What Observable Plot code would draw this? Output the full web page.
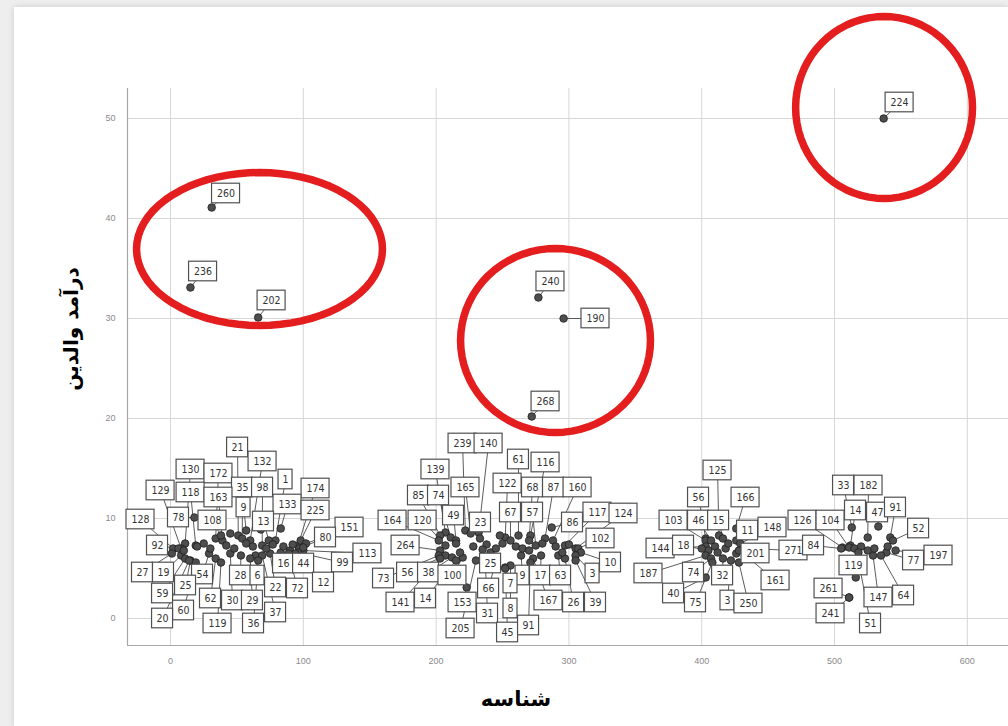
<!DOCTYPE html>
<html><head><meta charset="utf-8">
<script src="https://cdn.jsdelivr.net/npm/d3@7"></script>
<script src="https://cdn.jsdelivr.net/npm/@observablehq/plot@0.6"></script>
<style>
html,body{margin:0;padding:0;background:#eeeeee;width:1008px;height:726px;overflow:hidden;}
#panel{position:absolute;left:14px;top:7px;right:0;bottom:0;background:#fff;box-shadow:0 0 6px rgba(0,0,0,0.15);}
#chart{position:absolute;left:0;top:0;}
</style></head><body><div id="panel"></div><div id="chart"></div>
<script>
// labelled cases: case number, ID (x), parental income (y), label anchor (data units)
const caseLabels = [
  21,132,130,172,1,174,129,118,35,98,163,9,133,225,78,128,108,13,151,80,92,113,99,27,19,54,28,6,16,44,12,25,22,72,59,62,30,29,37,60,20,119,36,
  239,140,61,116,139,165,122,68,87,160,85,74,49,23,67,57,117,124,164,120,86,102,264,10,73,56,38,100,25,9,17,63,3,66,7,141,14,153,167,26,39,31,8,205,45,91,
  125,56,166,103,46,15,11,148,144,18,201,271,187,74,32,161,40,75,3,250,
  33,182,14,47,91,126,104,52,84,197,77,119,261,147,64,241,51,
  260,236,202,240,190,268,224];
const idValues = [
  51,60,11,34,79,96,8,19,54,69,39,57,83,98,18,2,38,74,102,97,6,100,96,1,8,29,53,64,83,90,94,15,75,89,11,34,45,60,69,19,14,38,66,
  222,232,262,271,207,226,252,270,282,288,203,211,215,233,256,275,297,305,202,207,287,307,203,309,202,207,212,220,241,264,279,292,305,245,252,203,215,223,273,297,305,237,256,230,252,271,
  413,403,426,403,407,416,426,429,403,405,426,435,403,407,416,433,403,408,422,428,
  513,525,512,533,542,506,511,544,505,546,539,516,511,529,535,511,518,
  31,15,66,277,296,272,537];
const incomeValues = [
  8.3,7.8,7.5,8.0,7.8,7.3,7.0,7.3,8.0,7.3,7.8,8.8,9.0,7.8,10.1,7.0,8.3,7.8,7.5,7.0,7.0,6.8,6.6,6.5,6.3,6.5,6.3,6.3,6.6,6.8,6.5,5.8,6.5,6.5,6.0,6.0,6.5,6.0,6.3,5.6,5.8,5.6,5.8,
  8.8,8.6,8.3,8.3,8.6,8.5,8.1,7.8,8.0,7.8,8.3,8.1,7.8,8.0,7.8,7.3,7.3,7.0,7.8,7.3,9.1,7.0,6.8,6.6,6.3,6.3,6.1,6.1,6.6,6.3,6.3,6.3,6.3,5.8,5.1,6.0,5.8,3.1,6.0,6.0,5.8,5.8,5.3,5.8,5.0,5.6,
  8.3,8.0,9.0,7.8,7.8,8.0,7.8,7.5,7.2,6.8,6.5,7.0,6.3,6.0,6.0,6.3,4.1,5.6,5.8,5.6,
  9.1,8.1,7.3,9.2,8.1,7.1,7.1,7.8,7.0,6.8,6.6,4.1,2.1,6.3,6.3,2.1,5.8,
  41.1,33.1,30.1,32.1,30.0,20.2,50.0];
const labelX = [
  50.5,69.3,15.1,36.1,86.6,109.2,-7.5,15.1,54.2,69.3,36.1,55.0,88.1,109.2,6.0,-22.6,31.6,70.0,134.8,116.7,-9.8,148.3,129.5,-21.1,-5.3,24.1,52.7,65.5,85.1,100.2,115.2,11.3,79.1,95.6,-6.0,30.1,46.7,61.7,79.1,9.8,-6.0,35.4,62.5,
  219.9,239.5,262.0,282.4,199.5,222.1,253.8,272.6,288.4,306.5,186.7,201.8,213.1,233.4,256.0,272.6,321.5,341.1,167.2,189.8,302.7,323.8,177.0,331.3,160.4,178.5,194.3,212.3,241.0,265.1,278.6,293.7,317.8,239.5,256.0,173.2,192.0,219.9,284.6,303.5,320.0,238.7,256.0,218.4,253.8,269.6,
  411.9,397.6,433.0,378.8,397.6,412.7,434.5,453.3,369.0,386.3,440.5,469.1,359.9,393.8,415.7,455.6,378.8,395.3,419.4,435.2,
  506.8,525.6,515.8,532.4,545.9,475.9,497.0,563.3,484.2,578.3,559.5,514.3,495.5,533.1,552.0,497.0,527.1,
  41.8,24.5,76.1,286.1,320.0,282.4,549.0];
const labelY = [
  17.1,15.7,14.9,14.5,13.9,13.0,12.8,12.6,13.1,13.1,12.1,11.1,11.4,10.8,10.1,9.9,9.8,9.7,9.1,8.1,7.3,6.5,5.6,4.6,4.6,4.4,4.3,4.3,5.5,5.5,3.6,3.3,3.1,3.0,2.5,2.0,1.8,1.8,0.6,0.8,0.0,-0.5,-0.5,
  17.5,17.5,15.9,15.6,14.9,13.1,13.5,13.1,13.1,13.1,12.3,12.3,10.3,9.6,10.6,10.6,10.6,10.5,9.8,9.8,9.6,8.0,7.3,5.6,4.0,4.6,4.6,4.3,5.5,4.3,4.3,4.3,4.5,3.0,3.5,1.6,2.0,1.6,1.8,1.6,1.6,0.5,1.0,-1.0,-1.4,-0.7,
  14.8,12.1,12.1,9.8,9.8,9.8,8.8,9.1,7.0,7.3,6.5,6.8,4.5,4.6,4.3,3.8,2.5,1.6,1.8,1.5,
  13.3,13.3,10.8,10.6,11.1,9.8,9.8,9.0,7.3,6.3,5.8,5.3,3.0,2.1,2.3,0.5,-0.5,
  42.5,34.7,31.8,33.7,30.0,21.7,51.6];

// cases whose labels are hidden by overlap
const hiddenIds = [20,25,30,42,48,57,62,72,77,85,92,100,10,45,68,215,228,238,245,250,260,265,280,290,300,218,235,270,295,248,410,418,420,412,428,400,515,520,525,530,540,518];
const hiddenIncomes = [7.2,7.5,7.0,7.3,7.0,7.5,7.2,7.0,7.4,7.2,7.4,7.1,6.8,8.5,8.9,7.5,7.2,7.4,7.0,7.5,7.2,7.0,7.5,7.2,7.4,6.6,6.9,6.8,6.6,8.3,7.2,7.0,7.5,6.6,6.8,7.0,7.0,7.2,6.8,7.0,7.2,6.6];

const xTicks = [0,100,200,300,400,500,600];
const yTicks = [0,10,20,30,40,50];

// red hand-drawn rings (centre and radii in data units)
const ringCx = [67.0, 289.9, 537.3];
const ringCy = [36.95, 27.8, 51.1];
const ringRx = [92.6, 71.5, 66.6];
const ringRy = [7.65, 9.2, 9.1];

const xTitle = "شناسه";
const yTitle = "درآمد والدین";

// ---- layout ----
const W = 1008, H = 726, mL = 127, mT = 88, mB = 81, mR = 0;
const xDomain = [-32.4, 631], yDomain = [-2.7, 53];
const kx = (W - mL - mR) / (xDomain[1] - xDomain[0]);
const ky = (H - mT - mB) / (yDomain[1] - yDomain[0]);

const rows = caseLabels.map((label, i) => {
  const s = String(label);
  const hw = (s.length === 1 ? 7 : s.length === 2 ? 10.5 : 14) / kx;
  const hh = 9.8 / ky;
  return {label: s, x: idValues[i], y: incomeValues[i], lx: labelX[i], ly: labelY[i],
          x1: labelX[i] - hw, x2: labelX[i] + hw, y1: labelY[i] - hh, y2: labelY[i] + hh};
});
const dots = rows.map(d => ({x: d.x, y: d.y}))
  .concat(hiddenIds.map((x, i) => ({x, y: hiddenIncomes[i]})));

const ringPts = ringCx.flatMap((cx, k) => d3.range(0, 73).map(j => {
  const t = j / 72 * 2 * Math.PI;
  return {k, x: cx + ringRx[k] * Math.cos(t), y: ringCy[k] + ringRy[k] * Math.sin(t)};
}));

const chart = Plot.plot({
  width: W, height: H,
  marginLeft: mL, marginTop: mT, marginBottom: mB, marginRight: mR,
  style: {background: "transparent", fontSize: "9px", color: "#8a8a8a", fontFamily: "Liberation Sans, Arial, sans-serif"},
  x: {domain: xDomain, ticks: xTicks, tickSize: 0, tickPadding: 12, label: null},
  y: {domain: yDomain, ticks: yTicks, tickSize: 0, tickPadding: 12, label: null},
  marks: [
    Plot.ruleX(xTicks, {stroke: "#d6d6d6", strokeWidth: 1}),
    Plot.ruleY(yTicks, {stroke: "#d6d6d6", strokeWidth: 1}),
    Plot.ruleX([xDomain[0]], {stroke: "#a8a8a8", strokeWidth: 1.2}),
    Plot.ruleY([yDomain[0]], {stroke: "#a8a8a8", strokeWidth: 1.2}),
    Plot.link(rows, {x1: "x", y1: "y", x2: "lx", y2: "ly", stroke: "#4a4a4a", strokeWidth: 0.9}),
    Plot.dot(dots, {x: "x", y: "y", r: 3.8, fill: "#4d4d4d", stroke: "#1e1e1e", strokeWidth: 0.8}),
    Plot.rect(rows, {x1: "x1", x2: "x2", y1: "y1", y2: "y2", fill: "#fff", stroke: "#505050", strokeWidth: 1.2}),
    Plot.text(rows, {x: "lx", y: "ly", text: "label", fill: "#333", fontSize: 10.5,
      fontFamily: "Liberation Sans Narrow, Arial Narrow, DejaVu Sans Condensed, sans-serif"}),
    Plot.line(ringPts, {x: "x", y: "y", z: "k", stroke: "#e41e1e", strokeWidth: 7.5}),
    Plot.text([xTitle], {text: d => d, frameAnchor: "bottom", dx: -52, dy: 60, fontSize: 21, fontWeight: "bold", fill: "#000", fontFamily: "DejaVu Sans, sans-serif"}),
    Plot.text([yTitle], {text: d => d, frameAnchor: "left", textAnchor: "middle", dx: -56, dy: -38, rotate: -90, fontSize: 20, fontWeight: "bold", fill: "#000", fontFamily: "DejaVu Sans, sans-serif"})
  ]
});
document.getElementById("chart").appendChild(chart);
</script></body></html>
